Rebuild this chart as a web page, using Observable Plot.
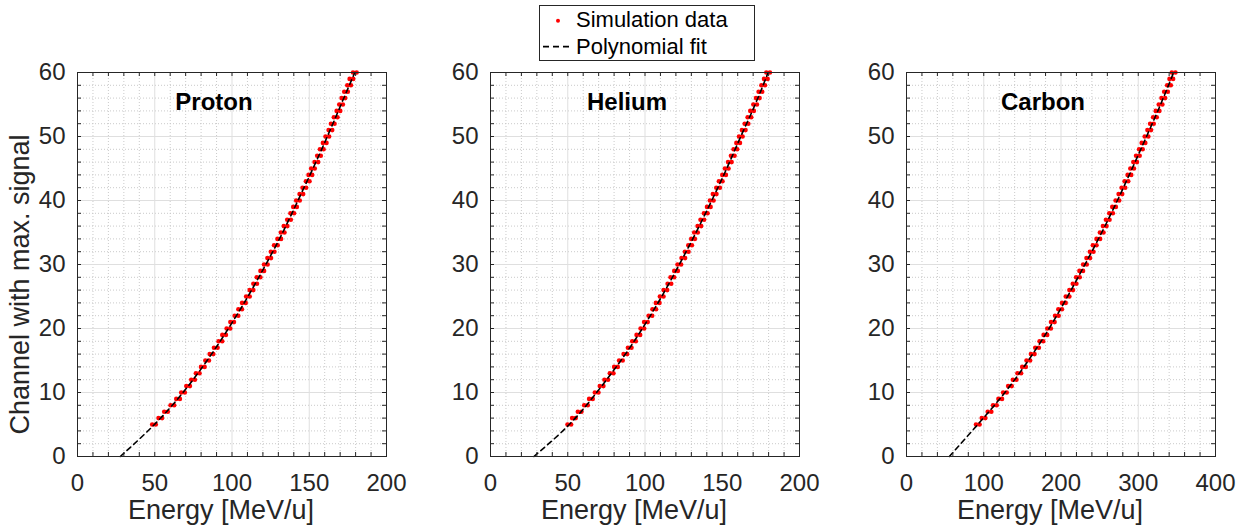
<!DOCTYPE html>
<html>
<head>
<meta charset="utf-8">
<script src="https://cdn.jsdelivr.net/npm/d3@7"></script>
<script src="https://cdn.jsdelivr.net/npm/@observablehq/plot@0.6"></script>
<style>
  html, body { margin: 0; padding: 0; background: #fff; }
  #fig { position: relative; width: 1240px; height: 529px; overflow: hidden;
         font-family: "Liberation Sans", Arial, Helvetica, sans-serif; }
  .panel { position: absolute; top: 0; width: 414px; height: 529px; }
  .panel svg { max-width: none !important; display: block; }
  #legend { position: absolute; left: 539px; top: 5px; width: 214px; height: 54px;
            border: 1px solid #262626; background: #fff; z-index: 2; }
  #legend text { font-family: "Liberation Sans", Arial, Helvetica, sans-serif; font-size: 22px; fill: #000; }
</style>
</head>
<body>
<div id="fig">
  <div id="legend">
    <svg width="214" height="54">
      <circle cx="18" cy="14.7" r="2" fill="#ff0000"></circle>
      <text x="36" y="21">Simulation data</text>
      <line x1="3" x2="33" y1="40.7" y2="40.7" stroke="#000" stroke-width="1.8" stroke-dasharray="6,4"></line>
      <text x="36" y="48.3">Polynomial fit</text>
    </svg>
  </div>
</div>
<script>
// Detector channel that received the maximum signal, channels 5..60
const channels = [5, 6, 7, 8, 9, 10, 11, 12, 13, 14, 15, 16, 17, 18, 19, 20, 21, 22, 23, 24, 25, 26, 27, 28, 29, 30,
  31, 32, 33, 34, 35, 36, 37, 38, 39, 40, 41, 42, 43, 44, 45, 46, 47, 48, 49, 50, 51, 52, 53, 54, 55, 56, 57, 58, 59, 60];

// Simulated beam energy (MeV/u) for each channel
const protonEnergy = [49.5, 53.6, 57.3, 61.4, 65.1, 68.3, 71.6, 74.8, 77.8, 81.1, 83.9, 86.7, 89.5, 92.5, 94.9, 97.7,
  100.1, 102.9, 105.3, 107.7, 110.3, 112.6, 115.0, 117.2, 119.6, 121.9, 124.1, 126.3, 128.4, 130.6, 132.8, 134.7,
  136.9, 139.0, 140.8, 142.7, 144.9, 146.8, 149.0, 150.7, 152.4, 154.6, 156.3, 158.1, 160.0, 161.7, 163.7, 165.2,
  167.1, 168.9, 170.6, 172.1, 173.8, 175.8, 177.3, 179.5];
const heliumEnergy = [51.0, 54.0, 57.7, 61.8, 65.0, 68.7, 71.9, 74.9, 78.4, 81.2, 84.4, 87.3, 90.1, 92.9, 95.7, 98.3,
  100.6, 103.5, 106.0, 108.2, 110.8, 113.2, 115.8, 117.7, 120.1, 122.2, 124.8, 127.0, 129.2, 131.1, 133.0, 135.2,
  137.1, 139.3, 141.3, 143.2, 145.1, 147.3, 149.0, 151.2, 152.9, 154.9, 156.8, 158.5, 160.3, 162.0, 163.9, 165.7,
  167.6, 169.3, 171.3, 173.0, 174.7, 176.5, 178.2, 179.7];
const carbonEnergy = [92.3, 99.7, 107.5, 114.4, 121.3, 127.4, 133.9, 140.0, 146.0, 152.1, 157.7, 163.4, 169.0, 174.6,
  179.8, 184.6, 189.4, 194.6, 198.9, 203.7, 208.5, 213.2, 217.6, 221.9, 226.2, 231.0, 235.3, 239.7, 243.6, 248.3,
  252.7, 256.6, 260.5, 264.8, 268.7, 273.0, 276.9, 280.8, 284.7, 288.6, 292.1, 296.0, 299.5, 303.4, 306.8, 310.7,
  314.2, 317.7, 321.6, 325.0, 328.9, 332.4, 335.9, 339.8, 342.8, 345.8];

// Polynomial fit, sampled along the channel axis
const fitChannels = [0, 5, 10, 15, 20, 25, 30, 35, 40, 45, 50, 55, 60];
const protonFit = [27.7, 49.8, 68.3, 83.9, 97.7, 110.3, 121.9, 132.8, 142.7, 152.4, 161.7, 170.6, 179.5];
const heliumFit = [28.1, 51.0, 68.7, 84.4, 98.3, 110.8, 122.2, 133.0, 143.2, 152.9, 162.0, 171.3, 179.7];
const carbonFit = [55.5, 92.3, 127.4, 157.7, 184.6, 208.5, 231.0, 252.7, 273.0, 292.1, 310.7, 328.9, 345.8];

// Axis ticks
const yTicks = [0, 10, 20, 30, 40, 50, 60];
const xTicks200 = [0, 50, 100, 150, 200];
const xTicks400 = [0, 100, 200, 300, 400];

const panelNames = ["Proton", "Helium", "Carbon"];
const xLabel = "Energy [MeV/u]";
const yLabel = "Channel with max. signal";

const FONT = '"Liberation Sans", Arial, Helvetica, sans-serif';
const AXIS_COLOR = "#262626";

function panel({name, energy, fit, xMax, xMajor, xMinorStep, withYLabel}) {
  const W = 414, H = 529, mt = 72, mb = 73, ml = 77, mr = 28;
  const iw = W - ml - mr, ih = H - mt - mb;
  const tick = 4;

  const points = channels.map((c, i) => ({channel: c, energy: energy[i]}));
  const curve = fitChannels.map((c, i) => ({channel: c, energy: fit[i]}));

  const xMinor = d3.range(0, xMax + 1e-9, xMinorStep);
  const yMinor = d3.range(0, 60 + 1e-9, 2);
  const xMinorOnly = xMinor.filter(v => !xMajor.includes(v));
  const yMinorOnly = yMinor.filter(v => !yTicks.includes(v));

  const marks = [
    // minor (dotted) and major (solid) grid
    Plot.ruleX(xMinorOnly, {stroke: "#c4c4c4", strokeWidth: 0.9, strokeDasharray: "1,2"}),
    Plot.ruleY(yMinorOnly, {stroke: "#c4c4c4", strokeWidth: 0.9, strokeDasharray: "1,2"}),
    Plot.ruleX(xMajor, {stroke: "#dfdfdf", strokeWidth: 1}),
    Plot.ruleY(yTicks, {stroke: "#dfdfdf", strokeWidth: 1}),
    // simulation points (elongated red markers)
    Plot.dot(points, {x: "energy", y: "channel", r: 2.3, fill: "#ff0000", dx: -1.8}),
    Plot.dot(points, {x: "energy", y: "channel", r: 2.3, fill: "#ff0000", dx: 1.8}),
    // polynomial fit
    Plot.line(curve, {x: "energy", y: "channel", curve: "natural", stroke: "#000",
      strokeWidth: 1.6, strokeDasharray: "5,4"}),
    // box with inward ticks on all four sides
    Plot.frame({stroke: AXIS_COLOR, strokeWidth: 1}),
    Plot.tickX(xMinor, {x: d => d, insetTop: ih - tick, stroke: AXIS_COLOR}),
    Plot.tickX(xMinor, {x: d => d, insetBottom: ih - tick, stroke: AXIS_COLOR}),
    Plot.tickY(yMinor, {y: d => d, insetRight: iw - tick, stroke: AXIS_COLOR}),
    Plot.tickY(yMinor, {y: d => d, insetLeft: iw - tick, stroke: AXIS_COLOR}),
    // tick labels
    Plot.axisX({ticks: xMajor, tickSize: 0, tickPadding: 17, fontSize: 24, color: AXIS_COLOR,
      tickFormat: d => String(d), label: null}),
    Plot.axisY({ticks: yTicks, tickSize: 0, tickPadding: 12, fontSize: 24, color: AXIS_COLOR,
      tickFormat: d => String(d), label: null}),
    // panel title and axis title
    Plot.text([name], {text: d => d, frameAnchor: "top", lineAnchor: "middle", textAnchor: "middle",
      dx: -18, dy: 30, fontSize: 24, fontWeight: "bold", fill: "#000"}),
    Plot.text([xLabel], {text: d => d, frameAnchor: "bottom", lineAnchor: "middle", textAnchor: "middle",
      dx: -11, dy: 54, fontSize: 27, fill: AXIS_COLOR})
  ];
  if (withYLabel) {
    marks.push(Plot.text([yLabel], {text: d => d, frameAnchor: "left", lineAnchor: "middle", textAnchor: "middle",
      dx: -57, dy: 20, rotate: -90, fontSize: 27, fill: AXIS_COLOR}));
  }

  return Plot.plot({
    width: W, height: H,
    marginTop: mt, marginBottom: mb, marginLeft: ml, marginRight: mr,
    x: {domain: [0, xMax]},
    y: {domain: [0, 60]},
    style: {fontFamily: FONT, background: "transparent", overflow: "visible", maxWidth: "none"},
    marks
  });
}

const fig = document.getElementById("fig");
const specs = [
  {name: panelNames[0], energy: protonEnergy, fit: protonFit, xMax: 200, xMajor: xTicks200, xMinorStep: 10, withYLabel: true, left: 0},
  {name: panelNames[1], energy: heliumEnergy, fit: heliumFit, xMax: 200, xMajor: xTicks200, xMinorStep: 10, withYLabel: false, left: 413},
  {name: panelNames[2], energy: carbonEnergy, fit: carbonFit, xMax: 400, xMajor: xTicks400, xMinorStep: 20, withYLabel: false, left: 829}
];
for (const s of specs) {
  const holder = document.createElement("div");
  holder.className = "panel";
  holder.style.left = s.left + "px";
  holder.appendChild(panel(s));
  fig.appendChild(holder);
}
</script>
</body>
</html>
